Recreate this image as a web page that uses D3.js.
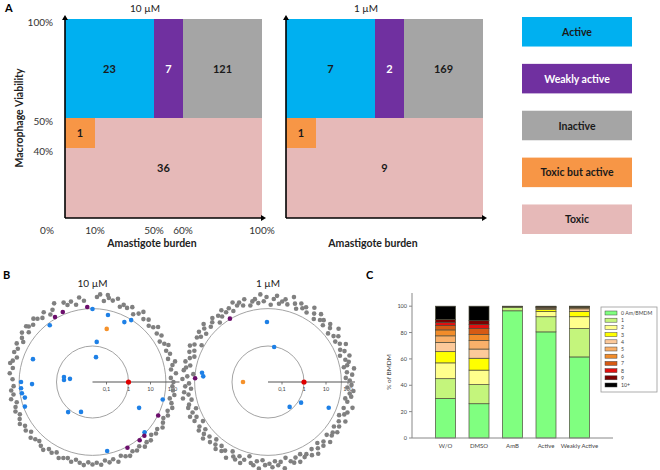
<!DOCTYPE html>
<html><head><meta charset="utf-8">
<script src="https://cdn.jsdelivr.net/npm/d3@7"></script>
<style>body{margin:0;background:#fff}text{font-family:Lato,"Open Sans",sans-serif}</style>
</head><body><svg id="c" width="660" height="470"></svg>
<script>
// ---------- Panel A data ----------
const regionNames = ["Toxic","Active","Weakly active","Inactive","Toxic but active"];
const regionColors = ["#e6b9b8","#00b0f0","#7030a0","#a5a5a5","#f79646"];
const regionTextColors = ["#1a1a1a","#1a1a1a","#ffffff","#1a1a1a","#1a1a1a"];
const regionX0 = [0,0,50,60,0];
const regionX1 = [100,50,60,100,10];
const regionY0 = [0,50,50,50,40];
const regionY1 = [50,100,100,100,50];
const counts10 = [36,23,7,121,1];
const counts1 = [9,7,2,169,1];
const panelTitles = ["10 µM","1 µM"];
const xTickValues = [10,50,60,100];
const xTickLabels = ["10%","50%","60%","100%"];
const yTickValues = [100,50,40];
const yTickLabels = ["100%","50%","40%"];
const legendNames = ["Active","Weakly active","Inactive","Toxic but active","Toxic"];
const legendColors = ["#00b0f0","#7030a0","#a5a5a5","#f79646","#e6b9b8"];
const legendTextColors = ["#1a1a1a","#ffffff","#1a1a1a","#1a1a1a","#1a1a1a"];

// ---------- Panel B data: [angle deg, selectivity value] ----------
const blue10 = [[127,39],[90,48],[77,31],[62,28],[58,48],[84,1.57],[82,0.32],[159,18.3],[182,13],[180,41],[185,42],[189,41],[193,33],[200,43],[170,0.48],[176,0.46],[172,0.25],[231,1.33],[249,0.66],[-29,6.1],[-14,45],[-44,45],[-78,37]];
const purple10 = [[120,59],[113,66],[94,60],[-27,52],[-46,57],[-51,59],[-62,56]];
const orange10 = [[75,7.3]];
const red10 = [[0,1]];
const blue1 = [[91,12.3],[80,0.95],[172,24.7],[175,20.8],[-49,0.73],[-32,1.37],[-23,23]];
const purple1 = [[121,53],[177,48]];
const orange1 = [[180,0.316]];
const red1 = [[0,1]];
const grayAngles10 = [0,3,6,9,12,14,17,20,23,26,28,31,34,37,40,42,45,48,51,54,56,59,62,65,68,70,73,76,79,82,85,87,
96,99,102,105,108,110,116,119,122,125,128,131,133,136,139,142,145,148,150,153,156,159,162,165,167,170,174,178,
183,186,189,192,195,198,201,204,207,210,213,216,219,222,225,228,231,234,237,240,243,246,249,252,255,258,261,264,267,270,
273,276,279,282,285,288,291,294,297,300,303,306,309,312,315,318,321,324,327,330,333,336,339,342,345,348,351,354,357,80,140];
const grayValues10 = [110,85,150,95,120,170,90,130,100,160,115,85,140,105,180,120,95,150,110,200,130,90,165,120,140,100,210,150,180,120,230,170,
120,180,90,140,110,160,220,130,95,170,115,150,200,130,160,110,190,140,100,170,120,150,95,130,160,110,140,100,
90,120,100,140,85,110,130,95,120,150,105,130,90,140,110,95,125,150,100,120,90,140,115,100,130,95,120,145,105,130,
110,140,95,125,100,150,90,115,135,100,120,95,140,110,130,90,120,100,145,115,95,130,105,150,120,90,135,110,100,240,200];
const grayAngles1 = [1,3,5,7,9,11,14,16,18,20,22,24,26,28,31,33,35,37,39,41,43,46,48,50,52,54,56,58,61,63,
65,67,69,71,73,76,78,80,82,84,86,88,91,93,95,97,99,101,103,106,108,110,112,114,116,118,121,123,125,127,
129,131,133,136,138,140,142,144,146,148,151,153,155,157,159,161,163,166,168,170,174,176,178,181,183,185,187,189,191,193,
196,198,200,202,204,206,208,211,213,215,217,219,221,223,226,228,230,232,234,236,238,241,243,245,247,249,251,253,256,258,
260,262,264,266,268,271,273,275,277,279,281,283,286,288,290,292,294,296,298,301,303,305,307,309,311,313,316,318,320,322,
324,326,328,331,333,335,337,339,341,343,346,348,350,352,354,356,358,12,172];
const grayValues1 = [120,80,160,95,210,75,140,105,180,70,130,90,200,115,85,150,100,240,75,125,
170,90,140,110,190,80,130,220,95,150,115,175,85,135,250,100,160,120,90,200,
140,75,170,110,230,95,150,125,85,190,105,160,130,210,90,145,115,180,100,135,
70,165,120,95,200,140,85,175,110,150,65,130,190,100,155,80,120,170,95,140,
60,110,180,90,135,75,160,105,200,85,125,150,70,115,175,95,140,65,120,160,
85,130,190,100,145,75,120,170,90,140,110,200,80,125,155,95,180,115,70,135,
160,100,210,85,140,120,175,95,150,110,230,80,130,165,105,190,90,145,120,175,
100,220,135,85,160,115,195,90,140,125,180,95,150,110,205,85,135,170,100,240,120,90,160,130,185,95,145,110,170];
const axisTicksB = [0.1,1,10,100];
const axisTickLabelsB = ["0,1","1","10","100"];
const innerCircleValue = 1, outerCircleValue = 50;

// ---------- Panel C data ----------
const cCategories = ["W/O","DMSO","AmB","Active","Weakly Active"];
const cKeys = ["0 Am/BMDM","1","2","3","4","5","6","7","8","9","10+"];
const cColors = ["#80ff80","#c4f57c","#ffff8c","#ffff00","#fcc99a","#f9b06a","#f28c2a","#d65a14","#e01010","#7a0000","#000000"];
const valsWO = [30,15,12,8.5,7,5,4.5,3.3,2.5,2.2,10];
const valsDMSO = [26,14.5,11,9,7,6.5,4.5,4.5,3,3,11];
const valsAmB = [96.5,2.7,0.3,0.1,0,0,0,0,0,0,0.4];
const valsActive = [80.5,11.5,4,1.5,0.8,0.5,0.3,0.2,0.2,0.2,0.3];
const valsWeakly = [61.5,21.5,9,4,2,0.8,0.5,0.3,0.2,0.1,0.1];
const cYTicks = [0,20,40,60,80,100];

const svg = d3.select("#c");

// ================= Panel A =================
svg.append("text").attr("x",5).attr("y",12).attr("font-weight","bold").attr("font-size",11).text("A");
const xA = d3.scaleLinear().domain([0,10,50,60,100]).range([0,30,89,118,197]);
const yA = d3.scaleLinear().domain([0,40,50,100]).range([199,129,99,0]);
const panelOrigins = [[65,19],[286,19]];
[counts10,counts1].forEach((counts,pi)=>{
  const g = svg.append("g").attr("transform",`translate(${panelOrigins[pi][0]},${panelOrigins[pi][1]})`);
  regionNames.forEach((n,i)=>{
    g.append("rect").attr("x",xA(regionX0[i])).attr("y",yA(regionY1[i]))
      .attr("width",xA(regionX1[i])-xA(regionX0[i])).attr("height",yA(regionY0[i])-yA(regionY1[i]))
      .attr("fill",regionColors[i]);
    g.append("text").attr("x",(xA(regionX0[i])+xA(regionX1[i]))/2).attr("y",(yA(regionY0[i])+yA(regionY1[i]))/2+4)
      .attr("text-anchor","middle").attr("font-weight","bold").attr("font-size",11)
      .attr("fill",regionTextColors[i]).text(counts[i]);
  });
  // axes with arrows
  g.append("line").attr("x1",0).attr("y1",yA(0)).attr("x2",0).attr("y2",-1).attr("stroke","#000").attr("stroke-width",1.6);
  g.append("path").attr("d",`M-3,1L0,-4L3,1Z`).attr("fill","#000");
  g.append("line").attr("x1",0).attr("y1",yA(0)).attr("x2",xA(100)+1).attr("y2",yA(0)).attr("stroke","#000").attr("stroke-width",1.6);
  g.append("path").attr("d",`M${xA(100)-1},${yA(0)-3}L${xA(100)+4},${yA(0)}L${xA(100)-1},${yA(0)+3}Z`).attr("fill","#000");
  g.append("text").attr("x",xA(50)-9).attr("y",-7).attr("text-anchor","middle").attr("font-size",10).attr("fill","#222").text(panelTitles[pi]);
  g.append("text").attr("x",xA(50)-2).attr("y",yA(0)+29).attr("text-anchor","middle").attr("font-weight","bold").attr("font-size",10.5).attr("fill","#222").text("Amastigote burden");
  if(pi===0){
    xTickValues.forEach((v,i)=>g.append("text").attr("x",xA(v)).attr("y",yA(0)+16).attr("text-anchor","middle").attr("font-size",10).attr("fill","#333").text(xTickLabels[i]));
    g.append("text").attr("x",-18).attr("y",yA(0)+16).attr("text-anchor","middle").attr("font-size",10).attr("fill","#333").text("0%");
    yTickValues.forEach((v,i)=>g.append("text").attr("x",-12).attr("y",yA(v)+7).attr("text-anchor","end").attr("font-size",10).attr("fill","#333").text(yTickLabels[i]));
    g.append("text").attr("transform",`translate(-42,${yA(50)}) rotate(-90)`).attr("text-anchor","middle").attr("font-weight","bold").attr("font-size",10.5).attr("fill","#222").text("Macrophage Viability");
  }
});
// Legend A
const legY = d3.scaleBand().domain(legendNames).range([17,234]).paddingInner(0.37).paddingOuter(0);
legendNames.forEach((n,i)=>{
  svg.append("rect").attr("x",522).attr("y",legY(n)).attr("width",110).attr("height",legY.bandwidth()).attr("fill",legendColors[i]);
  svg.append("text").attr("x",577).attr("y",legY(n)+legY.bandwidth()/2+4).attr("text-anchor","middle").attr("font-weight","bold").attr("font-size",10.5).attr("fill",legendTextColors[i]).text(n);
});

// ================= Panel B =================
svg.append("text").attr("x",3).attr("y",279).attr("font-weight","bold").attr("font-size",11).text("B");
const rB = d3.scaleLog().domain([1,100]).range([36,80]);
const centers = [[92.5,382],[268,382]];
const bData = [
  {title:"10 µM", gray:d3.zip(grayAngles10,grayValues10), blue:blue10, purple:purple10, orange:orange10, red:red10},
  {title:"1 µM", gray:d3.zip(grayAngles1,grayValues1), blue:blue1, purple:purple1, orange:orange1, red:red1}
];
bData.forEach((d,i)=>{
  const [cx,cy] = centers[i];
  const g = svg.append("g").attr("transform",`translate(${cx},${cy})`);
  const px = p => rB(p[1])*Math.cos(p[0]*Math.PI/180);
  const py = p => -rB(p[1])*Math.sin(p[0]*Math.PI/180);
  g.append("text").attr("x",0).attr("y",-95).attr("text-anchor","middle").attr("font-size",10).attr("fill","#222").text(d.title);
  g.append("circle").attr("r",rB(innerCircleValue)).attr("fill","none").attr("stroke","#999").attr("stroke-width",0.9);
  g.append("circle").attr("r",rB(outerCircleValue)).attr("fill","none").attr("stroke","#999").attr("stroke-width",0.9);
  g.append("line").attr("x1",0).attr("x2",rB(100)+7).attr("y1",0).attr("y2",0).attr("stroke","#555").attr("stroke-width",1.2);
  axisTicksB.forEach((t,k)=>{
    g.append("line").attr("x1",rB(t)).attr("x2",rB(t)).attr("y1",0).attr("y2",2.5).attr("stroke","#555").attr("stroke-width",0.8);
    g.append("text").attr("x",rB(t)).attr("y",9).attr("text-anchor","middle").attr("font-size",5.5).attr("font-family","Liberation Sans").attr("fill","#444").text(axisTickLabelsB[k]);
  });
  const dot = (arr,color,r)=>g.selectAll(null).data(arr).enter().append("circle")
    .attr("cx",px).attr("cy",py).attr("r",r).attr("fill",color);
  dot(d.gray,"#808080",2.3);
  dot(d.blue,"#1e80e6",2.3);
  dot(d.purple,"#6b0d6b",2.3);
  dot(d.orange,"#f5912a",2.3);
  dot(d.red,"#e00000",2.6);
});

// ================= Panel C =================
svg.append("text").attr("x",366).attr("y",279).attr("font-weight","bold").attr("font-size",11).text("C");
const cRows = [valsWO,valsDMSO,valsAmB,valsActive,valsWeakly].map((vals,i)=>{
  const o = {cat:cCategories[i]}; cKeys.forEach((k,j)=>o[k]=vals[j]); return o;
});
const stack = d3.stack().keys(cKeys)(cRows);
const xC = d3.scalePoint().domain(cCategories).range([412,613]).padding(1);
const yC = d3.scaleLinear().domain([0,110]).range([438,293]);
const barW = 20;
const gC = svg.append("g");
stack.forEach((layer,j)=>{
  gC.selectAll(null).data(layer).enter().append("rect")
    .attr("x",d=>xC(d.data.cat)-barW/2).attr("width",barW)
    .attr("y",d=>yC(d[1])).attr("height",d=>Math.max(0,yC(d[0])-yC(d[1])))
    .attr("fill",cColors[j]).attr("stroke","#4a4a3a").attr("stroke-width",0.7);
});
gC.append("line").attr("x1",412).attr("x2",412).attr("y1",yC(0)).attr("y2",yC(110)).attr("stroke","#888").attr("stroke-width",1);
gC.append("line").attr("x1",412).attr("x2",613).attr("y1",yC(0)).attr("y2",yC(0)).attr("stroke","#888").attr("stroke-width",1);
cYTicks.forEach(t=>{
  gC.append("line").attr("x1",409).attr("x2",412).attr("y1",yC(t)).attr("y2",yC(t)).attr("stroke","#888");
  gC.append("text").attr("x",407).attr("y",yC(t)+2).attr("text-anchor","end").attr("font-size",5.5).attr("font-family","Liberation Sans").attr("fill","#444").text(t);
});
cCategories.forEach(c=>gC.append("text").attr("x",xC(c)).attr("y",448).attr("text-anchor","middle").attr("font-size",6).attr("font-family","Liberation Sans").attr("fill","#444").text(c));
gC.append("text").attr("transform",`translate(391,372) rotate(-90)`).attr("text-anchor","middle").attr("font-size",6.5).attr("font-family","Liberation Sans").attr("fill","#444").text("% of BMDM");
// legend C
gC.append("rect").attr("x",601).attr("y",307).attr("width",56).attr("height",85).attr("fill","#fff").attr("stroke","#999").attr("stroke-width",0.8);
const legCY = d3.scalePoint().domain(cKeys).range([313,385]);
cKeys.forEach((k,j)=>{
  gC.append("rect").attr("x",605).attr("y",legCY(k)-2).attr("width",12).attr("height",4).attr("fill",cColors[j]).attr("stroke","#444").attr("stroke-width",0.5);
  gC.append("text").attr("x",621).attr("y",legCY(k)+2).attr("font-size",5.2).attr("font-family","Liberation Sans").attr("fill","#444").text(k);
});
</script></body></html>
